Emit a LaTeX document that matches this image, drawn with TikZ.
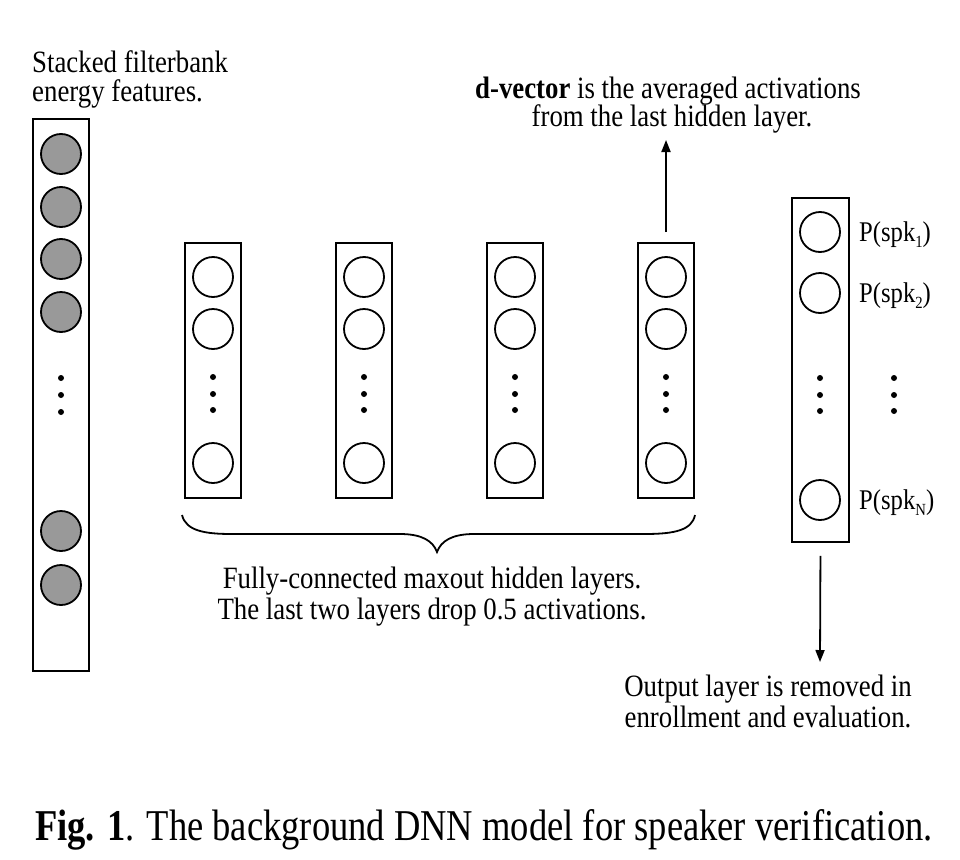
\documentclass[tikz,border=0pt]{standalone}
\usepackage{fontspec}
\setmainfont[FakeStretch=0.865]{Liberation Serif}
\newfontfamily\capfont[FakeStretch=0.83]{Liberation Serif}
\usetikzlibrary{arrows.meta}
\definecolor{fgray}{RGB}{153,153,153}
\newcommand{\lowsub}[1]{\raisebox{-6.5pt}{\fontsize{17}{17}\selectfont #1}}
\begin{document}
\begin{tikzpicture}[x=1pt,y=-1pt,
  lbox/.style={draw, line width=1.8pt, minimum width=56pt, inner sep=0pt},
  neuron/.style={draw, circle, line width=1.8pt, minimum size=40pt, inner sep=0pt},
  gneuron/.style={neuron, fill=fgray},
  dotn/.style={circle, fill=black, minimum size=6pt, inner sep=0pt},
  txt/.style={font=\fontsize{31}{28}\selectfont, inner sep=0pt},
  lab/.style={font=\fontsize{28.5}{28}\selectfont, inner sep=0pt, anchor=base west},
  arr/.style={line width=1.8pt, -{Triangle[length=12pt,width=9pt]}}]
\useasboundingbox (0,0) rectangle (960,859);
\fill[white] (0,0) rectangle (960,859);

% input layer
\node[txt, anchor=base west] (inl1) at (32,73) {Stacked filterbank};
\node[txt, anchor=base west] (inl2) at (32,101) {energy features.};
\node[lbox, minimum height=552pt] (in) at (61,395) {};
\foreach \y [count=\i] in {154,207,259,312,531,585}
  \node[gneuron] (i\i) at (61,\y) {};
\foreach \y [count=\i] in {378,395,412}
  \node[dotn] (id\i) at (61,\y) {};

% hidden layers
\foreach \x [count=\k] in {213,364,515,666} {
  \node[lbox, minimum height=255pt] (h\k) at (\x,370.5) {};
  \node[neuron] (h\k a) at (\x,277) {};
  \node[neuron] (h\k b) at (\x,329) {};
  \node[neuron] (h\k c) at (\x,463) {};
  \node[dotn] (h\k d1) at (\x,377) {};
  \node[dotn] (h\k d2) at (\x,394) {};
  \node[dotn] (h\k d3) at (\x,410) {};
}

% brace
\draw[line width=1.8pt] (182,515) .. controls (186,531) and (205,534) .. (232,534)
  -- (400,534) .. controls (422,534) and (433,541) .. (437,552)
  .. controls (441,541) and (452,534) .. (474,534)
  -- (645,534) .. controls (675,534) and (692,530) .. (695,515);
\node[txt, anchor=base] (hl1) at (432,588) {Fully-connected maxout hidden layers.};
\node[txt, anchor=base] (hl2) at (432,619) {The last two layers drop 0.5 activations.};

% d-vector
\coordinate (dtip) at (666,140);
\draw[arr, shorten <=10pt] (h4.north) -- (dtip);
\node[txt, anchor=base] (dv1) at (668,98) {\textbf{d-vector} is the averaged activations};
\node[txt, anchor=base] (dv2) at (672,126) {from the last hidden layer.};

% output layer
\node[lbox, minimum width=57pt, minimum height=344pt] (out) at (820.5,370) {};
\node[neuron] (o1) at (820,232) {};
\node[neuron] (o2) at (820,293) {};
\node[neuron] (oN) at (820,500) {};
\foreach \y [count=\i] in {378,395,411} {
  \node[dotn] (od\i) at (820,\y) {};
  \node[dotn] (pd\i) at (894,\y) {};
}
\node[lab] (p1) at (859,241) {P(spk\lowsub{1})};
\node[lab] (p2) at (859,302) {P(spk\lowsub{2})};
\node[lab] (pN) at (859,509) {P(spk\lowsub{N})};

\coordinate (otip) at (820,662);
\draw[arr, shorten <=13pt] (out.south) -- (otip);
\node[txt, anchor=base] (ol1) at (768,696) {Output layer is removed in};
\node[txt, anchor=base] (ol2) at (768,727) {enrollment and evaluation.};

% caption
\node[inner sep=0pt, anchor=base west, font=\capfont\fontsize{44}{48}\selectfont] (cap) at (35,840)
  {\textbf{Fig. 1}. The background DNN model for speaker verification.};
\end{tikzpicture}
\end{document}
